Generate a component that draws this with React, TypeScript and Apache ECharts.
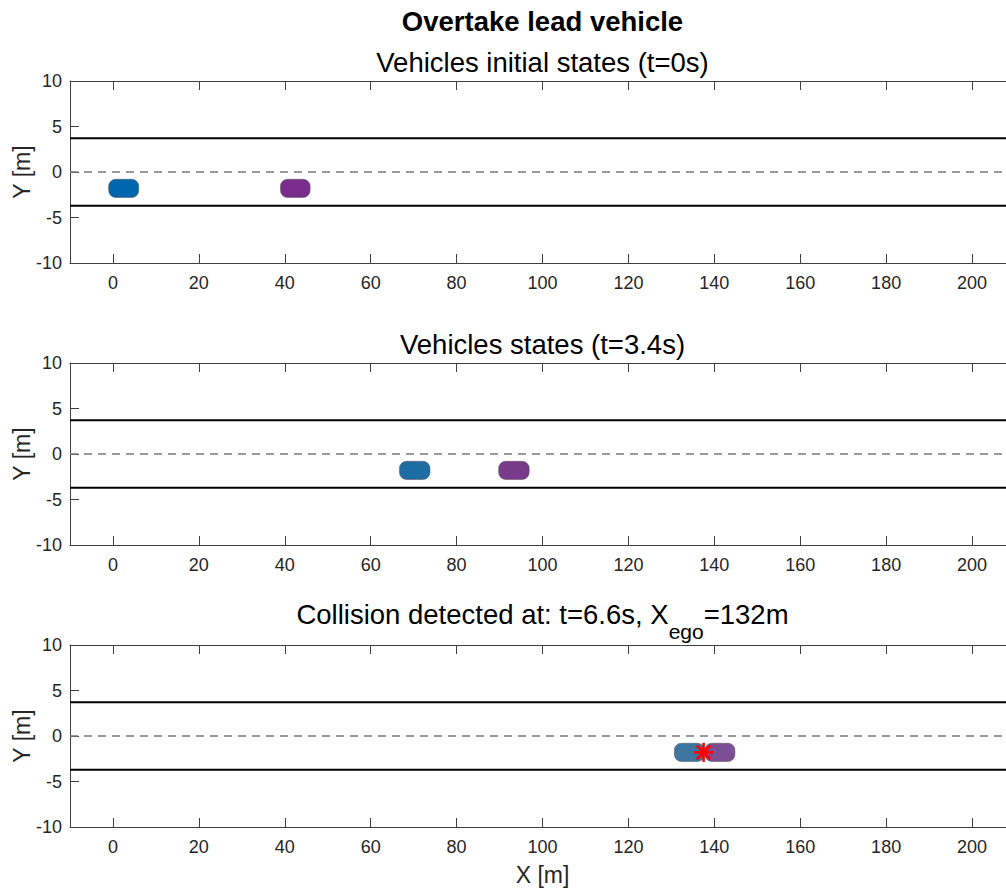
import React, { useEffect, useRef } from "react";
import * as echarts from "echarts";

// ---- data ----
const xTicks = [0, 20, 40, 60, 80, 100, 120, 140, 160, 180, 200];
const xRange = [-10, 210];
const yRange = [-10, 10];
const laneEdgeY = [3.7, -3.7];
const laneCenterY = 0;
const figureTitle = "Overtake lead vehicle";
const panelTitles = ["Vehicles initial states (t=0s)", "Vehicles states (t=3.4s)"];
const collisionTitleMain = "Collision detected at: t=6.6s, X";
const collisionTitleSub = "ego";
const collisionTitleEnd = "=132m";
// vehicle extents per panel: [xStart, xEnd]
const egoX = [
  [-1.0, 6.0],
  [66.7, 73.8],
  [130.7, 137.7],
];
const leadX = [
  [39.0, 45.9],
  [89.8, 96.9],
  [137.8, 144.8],
];
const vehicleY = [-2.8, -0.8];
const collisionPoint = [137.5, -1.8];
const egoColors = ["#0066AD", "#1D6CA3", "#3C76A0"];
const leadColors = ["#7B2D8E", "#7A3A8C", "#7C4E93"];

const FONT = "'Liberation Sans', Arial, Helvetica, sans-serif";
const AXIS_COLOR = "#404040";
const TEXT_COLOR = "#262626";
const GRID_TOPS = [81, 363, 645];
const GRID_H = 182;
const GRID_LEFT = 70;
const CHART_W = 1016;
const CHART_H = 888;
const GRID_RIGHT = 1;

function measure(text: string, size: number) {
  const c = document.createElement("canvas").getContext("2d");
  if (!c) return text.length * size * 0.55;
  c.font = `${size}px ${FONT}`;
  return c.measureText(text).width;
}

export default function App() {
  const ref = useRef<HTMLDivElement>(null);
  useEffect(() => {
    document.body.style.margin = "0";
    if (!ref.current) return;
    const chart = echarts.init(ref.current, undefined, { renderer: "svg" });

    const grids: any[] = [];
    const xAxes: any[] = [];
    const yAxes: any[] = [];
    const series: any[] = [];

    GRID_TOPS.forEach((top, i) => {
      grids.push({
        left: GRID_LEFT,
        right: GRID_RIGHT,
        top,
        height: GRID_H,
        containLabel: false,
        outerBoundsMode: "none",
      });
      const lineStyle = { color: AXIS_COLOR, width: 1 };
      const base = {
        gridIndex: i,
        type: "value",
        min: xRange[0],
        max: xRange[1],
        splitLine: { show: false },
        axisLine: { show: true, onZero: false, lineStyle },
      };
      xAxes.push({
        ...base,
        position: "bottom",
        axisTick: { show: true, inside: true, length: 9, customValues: xTicks, lineStyle },
        axisLabel: {
          show: true,
          customValues: xTicks,
          fontSize: 18,
          fontFamily: FONT,
          color: TEXT_COLOR,
          margin: 11,
        },
        ...(i === 2
          ? {
              name: "X [m]",
              nameLocation: "middle",
              nameGap: 36,
              nameMoveOverlap: false,
              nameTextStyle: { fontSize: 23, fontFamily: FONT, color: TEXT_COLOR },
            }
          : {}),
      });
      xAxes.push({
        ...base,
        position: "top",
        axisTick: { show: true, inside: true, length: 9, customValues: xTicks, lineStyle },
        axisLabel: { show: false },
      });
      const ybase = {
        gridIndex: i,
        type: "value",
        min: yRange[0],
        max: yRange[1],
        interval: 5,
        splitLine: { show: false },
        axisLine: { show: true, onZero: false, lineStyle },
        axisTick: { show: true, inside: true, length: 9, lineStyle },
      };
      yAxes.push({
        ...ybase,
        position: "left",
        axisLabel: { fontSize: 18, fontFamily: FONT, color: TEXT_COLOR, margin: 8 },
        name: "Y [m]",
        nameLocation: "middle",
        nameGap: 37,
        nameMoveOverlap: false,
        nameTextStyle: { fontSize: 23, fontFamily: FONT, color: TEXT_COLOR },
      });
      yAxes.push({ ...ybase, position: "right", axisLabel: { show: false } });

      const xi = i * 2;
      const yi = i * 2;
      laneEdgeY.forEach((y) => {
        series.push({
          type: "line",
          xAxisIndex: xi,
          yAxisIndex: yi,
          data: [
            [xRange[0], y],
            [xRange[1], y],
          ],
          symbol: "none",
          lineStyle: { color: "#000000", width: 2 },
          silent: true,
        });
      });
      series.push({
        type: "line",
        xAxisIndex: xi,
        yAxisIndex: yi,
        data: [
          [xRange[0], laneCenterY],
          [xRange[1], laneCenterY],
        ],
        symbol: "none",
        lineStyle: { color: "#7a7a7a", width: 1.5, type: [8, 6] },
        silent: true,
      });

      const vehicle = (xs: number[], color: string) => ({
        type: "custom",
        xAxisIndex: xi,
        yAxisIndex: yi,
        itemStyle: { color },
        data: [[xs[0], xs[1], vehicleY[0], vehicleY[1]]],
        encode: { x: [0, 1], y: [2, 3] },
        renderItem: (params: any, api: any) => {
          const p0 = api.coord([api.value(0), api.value(3)]);
          const p1 = api.coord([api.value(1), api.value(2)]);
          return {
            type: "rect",
            shape: { x: p0[0], y: p0[1], width: p1[0] - p0[0], height: p1[1] - p0[1], r: 7 },
            style: { fill: color, stroke: "rgba(90,90,90,0.55)", lineWidth: 1 },
          };
        },
      });
      series.push(vehicle(egoX[i], egoColors[i]));
      series.push(vehicle(leadX[i], leadColors[i]));

      if (i === 2) {
        series.push({
          type: "custom",
          xAxisIndex: xi,
          yAxisIndex: yi,
          data: [collisionPoint],
          encode: { x: 0, y: 1 },
          renderItem: (params: any, api: any) => {
            const c = api.coord([api.value(0), api.value(1)]);
            const r = 9.5;
            const d = r * 0.72;
            const st = { stroke: "#ff0000", lineWidth: 2.6 };
            return {
              type: "group",
              children: [
                { type: "line", shape: { x1: c[0], y1: c[1] - r, x2: c[0], y2: c[1] + r }, style: st },
                { type: "line", shape: { x1: c[0] - r, y1: c[1], x2: c[0] + r, y2: c[1] }, style: st },
                { type: "line", shape: { x1: c[0] - d, y1: c[1] - d, x2: c[0] + d, y2: c[1] + d }, style: st },
                { type: "line", shape: { x1: c[0] - d, y1: c[1] + d, x2: c[0] + d, y2: c[1] - d }, style: st },
              ],
            };
          },
        });
      }
    });

    const cx = GRID_LEFT + (CHART_W - GRID_RIGHT - GRID_LEFT) / 2;
    const TS = 27.5;
    const SUB = 21;
    const w1 = measure(collisionTitleMain, TS);
    const w2 = measure(collisionTitleSub, SUB);
    const w3 = measure(collisionTitleEnd, TS);
    const startX = cx - (w1 + w2 + w3) / 2;
    const titleStyle = (text: string, x: number, y: number, size: number, align: string, weight = "normal") => ({
      type: "text",
      x,
      y,
      style: {
        text,
        fontSize: size,
        fontFamily: FONT,
        fontWeight: weight,
        fill: "#000000",
        align,
        verticalAlign: "middle",
      },
    });

    const graphic = [
      titleStyle(figureTitle, cx, 21, 27.5, "center", "bold"),
      titleStyle(panelTitles[0], cx, 62, TS, "center"),
      titleStyle(panelTitles[1], cx, 344, TS, "center"),
      titleStyle(collisionTitleMain, startX, 614, TS, "left"),
      titleStyle(collisionTitleSub, startX + w1, 631, SUB, "left"),
      titleStyle(collisionTitleEnd, startX + w1 + w2, 614, TS, "left"),
    ];

    chart.setOption({
      animation: false,
      backgroundColor: "#ffffff",
      grid: grids,
      xAxis: xAxes,
      yAxis: yAxes,
      series,
      graphic,
    });
    return () => chart.dispose();
  }, []);

  return (
    <div style={{ width: 1006, height: 888, overflow: "hidden", background: "#fff" }}>
      <div ref={ref} style={{ width: CHART_W, height: CHART_H }} />
    </div>
  );
}
